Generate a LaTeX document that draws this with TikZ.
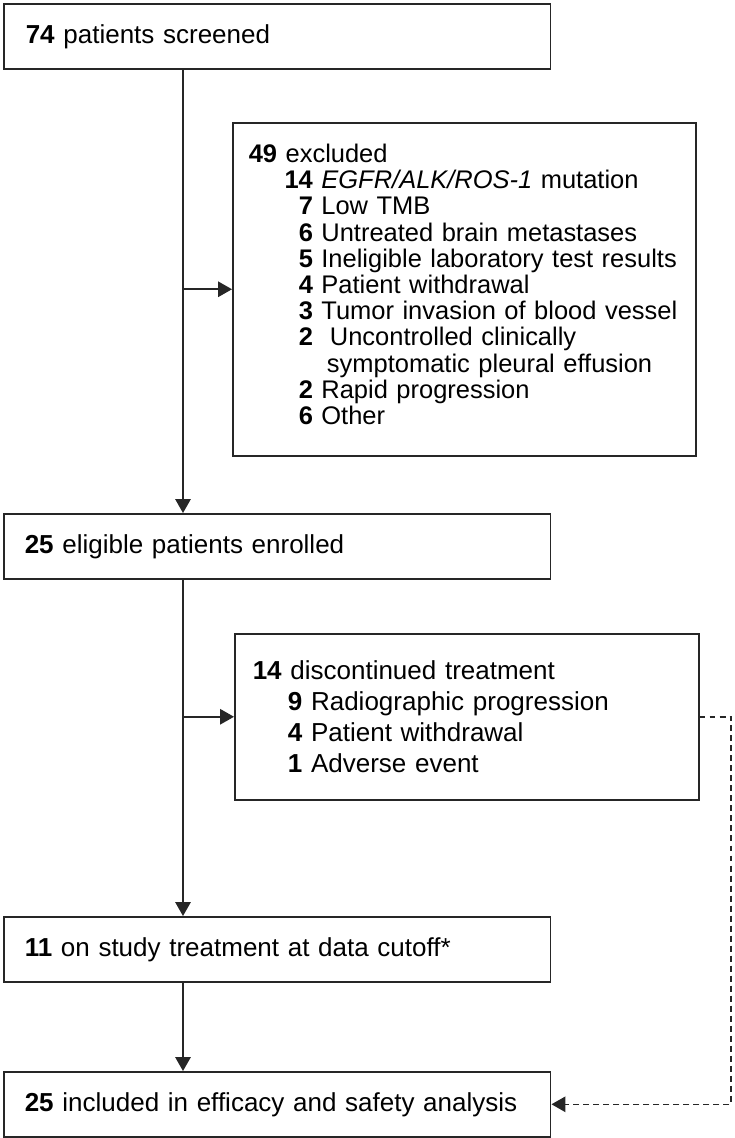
\documentclass[tikz,border=0pt]{standalone}
\usepackage{fontspec}
\setmainfont{Liberation Sans}
\usetikzlibrary{arrows.meta}
\tikzset{
  box/.style={draw=black!85, line width=0.9pt, anchor=north west, align=left, inner ysep=0pt,
              font=\fontsize{14.8}{14.8}\selectfont},
  arr/.style={draw=black!85, line width=0.9pt, -{Triangle[length=0.28cm,width=0.31cm]}},
  darr/.style={arr, dash pattern=on 3.4pt off 2.3pt}
}
\newcommand{\exrow}[2]{\hspace*{20.5pt}\makebox[16pt][r]{\textbf{#1}} \mbox{#2}}
\begin{document}
\begin{tikzpicture}[x=0.02cm,y=-0.02cm]
  \useasboundingbox (0,0) rectangle (734,1138);
  % main column
  \node[box, minimum width=10.94cm, minimum height=1.3cm, inner xsep=0.44cm, text width=10.06cm] (screen) at (3,3) {\textbf{74} patients screened};
  \node[box, minimum width=10.94cm, minimum height=1.3cm, inner xsep=0.42cm, text width=10.1cm] (enrol) at (3,513) {\textbf{25} eligible patients enrolled};
  \node[box, minimum width=10.94cm, minimum height=1.3cm, inner xsep=0.42cm, text width=10.1cm] (cutoff) at (3,916) {\textbf{11} on study treatment at data cutoff*};
  \node[box, minimum width=10.94cm, minimum height=1.3cm, inner xsep=0.42cm, text width=10.1cm] (final) at (3,1071) {\textbf{25} included in efficacy and safety analysis};
  % side boxes
  \node[box, minimum width=9.26cm, minimum height=6.66cm, inner xsep=0.32cm, text width=8.62cm,
        font=\fontsize{14.5}{14.9}\selectfont] (excl) at (232,122) {%
    \textbf{49} excluded\\
    \exrow{14}{\textit{EGFR/ALK/ROS-1} mutation}\\
    \exrow{7}{Low TMB}\\
    \exrow{6}{Untreated brain metastases}\\
    \exrow{5}{Ineligible laboratory test results}\\
    \exrow{4}{Patient withdrawal}\\
    \exrow{3}{Tumor invasion of blood vessel}\\
    \exrow{2}{\ Uncontrolled clinically}\\
    \hspace*{44.5pt}symptomatic pleural effusion\\
    \exrow{2}{Rapid progression}\\
    \exrow{6}{Other}\rule[-5.7pt]{0pt}{5.7pt}};
  \node[box, minimum width=9.28cm, minimum height=3.32cm, inner xsep=0.36cm, text width=8.56cm,
        font=\fontsize{14.8}{17.6}\selectfont] (disc) at (234,633) {%
    \textbf{14} discontinued treatment\\
    \hspace*{20pt}\textbf{9} Radiographic progression\\
    \hspace*{20pt}\textbf{4} Patient withdrawal\\
    \hspace*{20pt}\textbf{1} Adverse event};
  % connectors
  \coordinate (trunk) at (183,0);
  \coordinate (dashx) at (731,0);
  \draw[arr] (screen.south -| trunk) -- (enrol.north -| trunk);
  \draw[arr] (excl.west -| trunk) -- (excl.west);
  \draw[arr] (enrol.south -| trunk) -- (cutoff.north -| trunk);
  \draw[arr] (disc.west -| trunk) -- (disc.west);
  \draw[arr] (cutoff.south -| trunk) -- (final.north -| trunk);
  \draw[darr] (disc.east) -- (disc.east -| dashx) |- (final.east);
\end{tikzpicture}
\end{document}
